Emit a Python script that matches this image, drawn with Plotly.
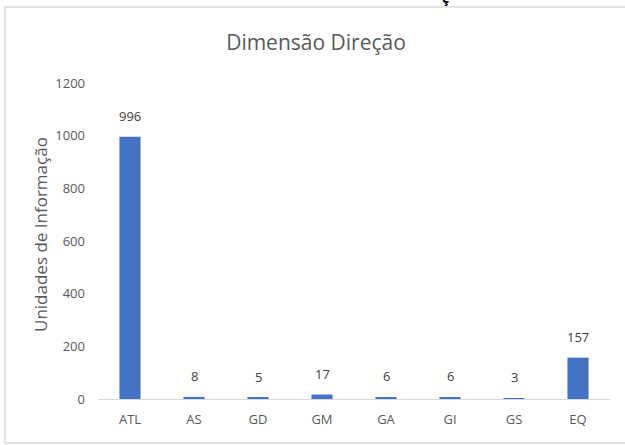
import plotly.graph_objects as go

categories = ["ATL", "AS", "GD", "GM", "GA", "GI", "GS", "EQ"]
values = [996, 8, 5, 17, 6, 6, 3, 157]
y_ticks = [0, 200, 400, 600, 800, 1000, 1200]

W, H = 625, 445
ml, mr, mt, mb = 98, 15, 83, 46
pw = W - ml - mr
ph = H - mt - mb

def px_x(x):
    return (x - ml) / pw

def px_y(y):
    return 1 - (y - mt) / ph

fig = go.Figure()
fig.add_trace(go.Bar(
    x=categories, y=values,
    marker=dict(color="#4472C4", line=dict(width=0)),
    width=0.33,
))

for c, v in zip(categories, values):
    fig.add_annotation(x=c, y=v, text=str(v), showarrow=False,
                       yanchor="bottom", yshift=10,
                       font=dict(family="Open Sans", size=13, color="#404040"))

fig.update_layout(
    width=W, height=H,
    margin=dict(l=ml, r=mr, t=mt, b=mb),
    paper_bgcolor="white", plot_bgcolor="white",
    showlegend=False,
    title=dict(text="Dimensão Direção", x=316 / W, xanchor="center", y=1 - 43 / H, yanchor="middle",
               font=dict(family="Open Sans", size=21, color="#595959")),
    font=dict(family="Open Sans", color="#595959"),
    bargap=0.67,
)
fig.update_xaxes(
    showline=True, linecolor="#D9D9D9", linewidth=1,
    showgrid=False, ticks="", ticklabelstandoff=8,
    tickfont=dict(family="Open Sans", size=13, color="#595959"),
)
fig.update_yaxes(
    range=[0, 1200], tickvals=y_ticks,
    showgrid=False, zeroline=False, showline=False, ticks="",
    ticklabelstandoff=12,
    tickfont=dict(family="Open Sans", size=13, color="#595959"),
)

# y-axis title placed explicitly
fig.add_annotation(xref="paper", yref="paper", x=px_x(40), y=px_y(235), xanchor="center", yanchor="middle",
                   text="Unidades de Informação", textangle=-90, showarrow=False,
                   font=dict(family="Open Sans", size=17, color="#595959"))

# chart border (top, left, bottom)
border = dict(color="#D9D9D9", width=1.5)
fig.add_shape(type="line", xref="paper", yref="paper", x0=px_x(5), x1=px_x(W), y0=px_y(7), y1=px_y(7), line=border)
fig.add_shape(type="line", xref="paper", yref="paper", x0=px_x(5), x1=px_x(5), y0=px_y(7), y1=px_y(443), line=border)
fig.add_shape(type="line", xref="paper", yref="paper", x0=px_x(5), x1=px_x(W), y0=px_y(443), y1=px_y(443), line=border)

# cut-off character at the very top of the picture
fig.add_annotation(xref="paper", yref="paper", x=px_x(445), y=px_y(9), xanchor="center", yanchor="bottom",
                   text="<b>ç</b>", showarrow=False,
                   font=dict(family="Open Sans", size=14, color="#000000"))

fig.write_html("out.html", config={"displayModeBar": False},
               post_script="document.body.style.margin='0';document.body.style.overflow='hidden';document.documentElement.style.overflow='hidden';")
